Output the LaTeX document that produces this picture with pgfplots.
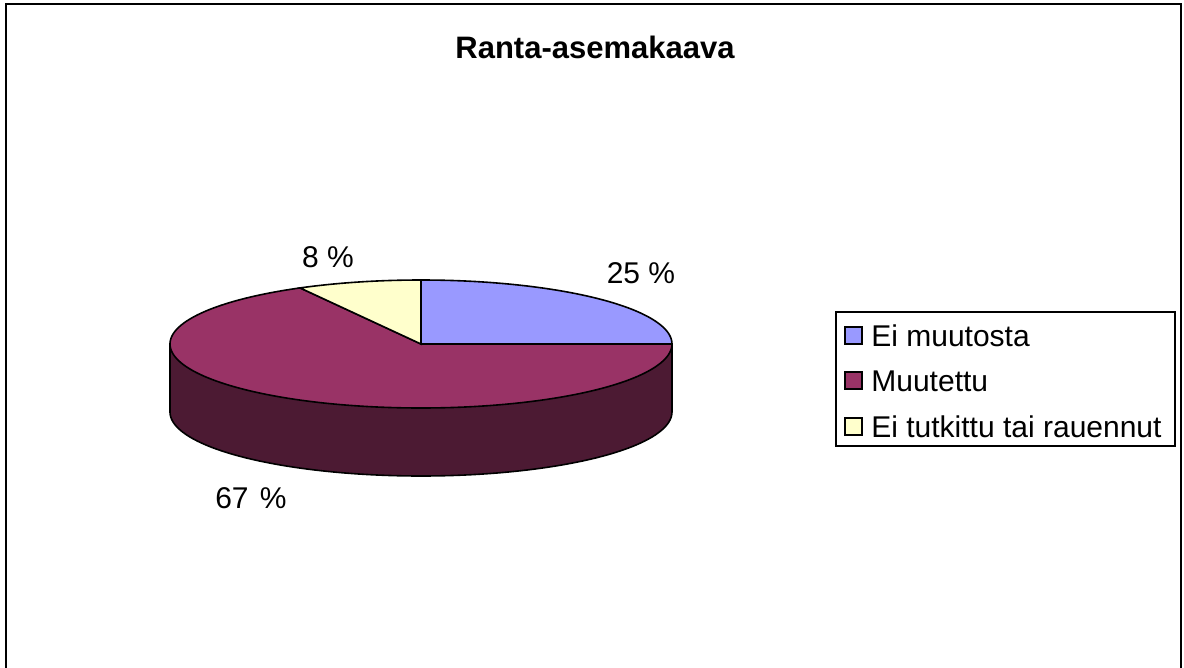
\documentclass[border=0pt]{standalone}
\usepackage{pgfplots}
\pgfplotsset{compat=1.18}
\usepackage{pgfplotstable}
\usepackage{fontspec}
\setmainfont{Liberation Sans}
\definecolor{cBlue}{HTML}{9999FF}
\definecolor{cMaroon}{HTML}{993366}
\definecolor{cCream}{HTML}{FFFFCC}
\definecolor{cSide}{HTML}{4C1A33}
\pgfplotstableread{
label value
{Ei muutosta} 25
Muutettu 67
{Ei tutkittu tai rauennut} 8
}\piedata
\pgfplotstablegetelem{0}{value}\of\piedata\let\va\pgfplotsretval
\pgfplotstablegetelem{1}{value}\of\piedata\let\vb\pgfplotsretval
\pgfplotstablegetelem{2}{value}\of\piedata\let\vc\pgfplotsretval
\pgfmathsetmacro{\tot}{\va+\vb+\vc}
\pgfmathsetmacro{\dpv}{360/\tot}
\pgfmathsetmacro{\aA}{90}
\pgfmathsetmacro{\aB}{\aA-\dpv*\va}
\pgfmathsetmacro{\aC}{\aB-\dpv*\vb}
\pgfmathsetmacro{\aD}{\aC-\dpv*\vc}
\def\cx{421}\def\cy{324}\def\rx{251}\def\ry{64}\def\dd{68}
\begin{document}%
\begin{tikzpicture}[font=\fontsize{15bp}{18bp}\selectfont]
\begin{axis}[x=0.5bp,y=0.5bp,xmin=0,xmax=1184,ymin=0,ymax=668,
  anchor=origin,at={(0,0)},
  hide axis,clip=true,axis line style={draw=none}]
\addplot[draw=none,fill=white,forget plot] coordinates {(0,0)(1184,0)(1184,668)(0,668)} -- cycle;
% side wall
\addplot[fill=cSide,draw=none,domain=180:360,samples=120,variable=\t]
  ({\cx+\rx*cos(\t)},{\cy-\dd+\ry*sin(\t)}) -- (axis cs:{\cx+\rx},\cy) -- (axis cs:{\cx-\rx},\cy) -- cycle;
\addplot[black,line width=0.8bp,domain=180:360,samples=120,variable=\t]
  ({\cx+\rx*cos(\t)},{\cy-\dd+\ry*sin(\t)});
\addplot[black,line width=0.8bp] coordinates {(\cx-\rx,\cy-\dd)(\cx-\rx,\cy)};
\addplot[black,line width=0.8bp] coordinates {(\cx+\rx,\cy-\dd)(\cx+\rx,\cy)};
% top wedges
\addplot[fill=cBlue,draw=black,line width=0.8bp,domain=\aB:\aA,samples=80,variable=\t]
  ({\cx+\rx*cos(\t)},{\cy+\ry*sin(\t)}) -- (axis cs:\cx,\cy) -- cycle;
\addplot[fill=cMaroon,draw=black,line width=0.8bp,domain=\aC:\aB,samples=200,variable=\t]
  ({\cx+\rx*cos(\t)},{\cy+\ry*sin(\t)}) -- (axis cs:\cx,\cy) -- cycle;
\addplot[fill=cCream,draw=black,line width=0.8bp,domain=\aD:\aC,samples=40,variable=\t]
  ({\cx+\rx*cos(\t)},{\cy+\ry*sin(\t)}) -- (axis cs:\cx,\cy) -- cycle;
% labels
\node at (axis cs:641,395) {\va{} \%};
\node at (axis cs:328,411) {\vc{} \%};
\node at (axis cs:251,170) {\vb{}\hspace{1.5bp} \%};
% title
\node[font=\fontsize{15.5bp}{18bp}\selectfont\bfseries] at (axis cs:595,621) {Ranta-asemakaava};
% border
\draw[line width=1.2bp] (axis cs:6,0) -- (axis cs:6,664) -- (axis cs:1181,664) -- (axis cs:1181,0);
% legend
\draw[line width=0.6bp] (axis cs:836,222) rectangle (axis cs:1175,356);
\filldraw[fill=cBlue,draw=black,line width=0.6bp] (axis cs:845,324) rectangle (axis cs:862,341);
\filldraw[fill=cMaroon,draw=black,line width=0.6bp] (axis cs:845,279) rectangle (axis cs:862,296);
\filldraw[fill=cCream,draw=black,line width=0.6bp] (axis cs:845,233) rectangle (axis cs:862,250);
\node[anchor=west,inner sep=0pt] at (axis cs:871,332) {Ei muutosta};
\node[anchor=west,inner sep=0pt] at (axis cs:871,287) {Muutettu};
\node[anchor=west,inner sep=0pt] at (axis cs:871,241) {Ei tutkittu tai rauennut};
\end{axis}
\pgfresetboundingbox
\path[use as bounding box] (0,0) rectangle (592bp,334bp);
\end{tikzpicture}%
\end{document}
